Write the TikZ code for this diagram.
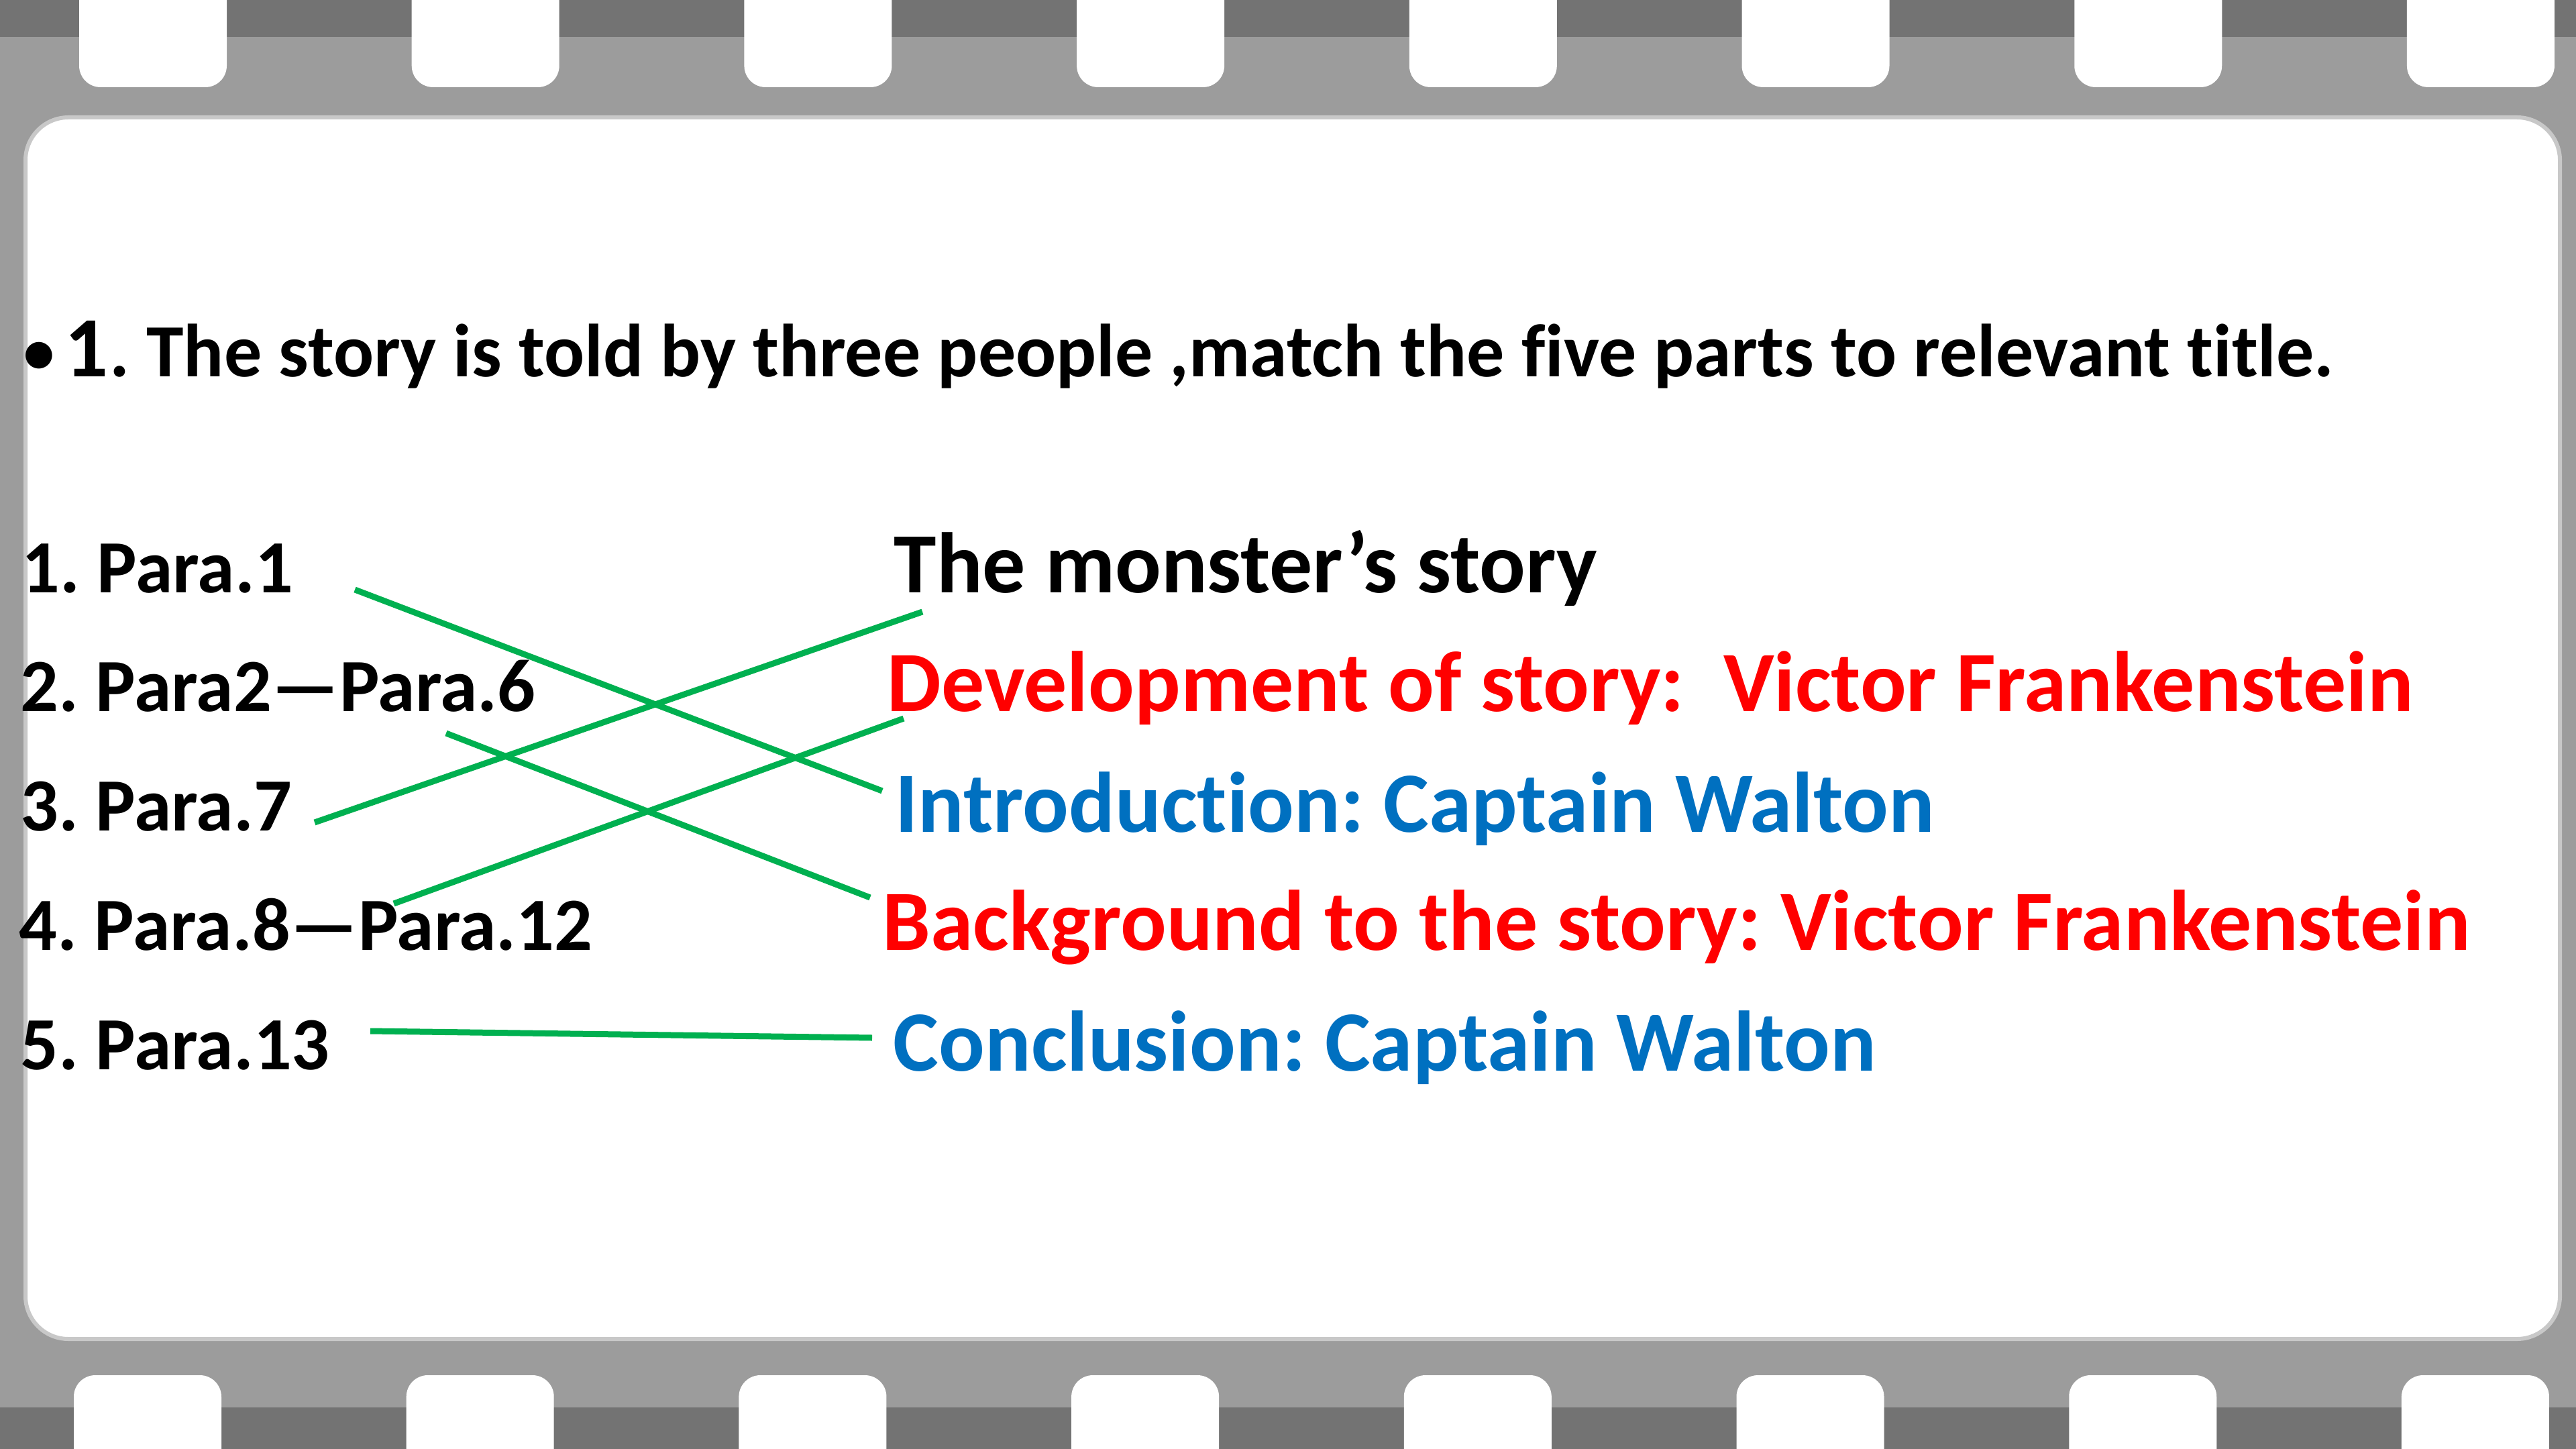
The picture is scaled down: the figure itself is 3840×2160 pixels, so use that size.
\documentclass[tikz,border=0pt]{standalone}
\usepackage{fontspec}
\setmainfont{Carlito}[Ligatures=NoCommon]
\frenchspacing
\definecolor{filmdark}{HTML}{737373}
\definecolor{filmlight}{HTML}{9C9C9C}
\definecolor{edgelight}{HTML}{C8C8C8}
\definecolor{tred}{HTML}{FF0000}
\definecolor{tblue}{HTML}{0070C0}
\definecolor{tgreen}{HTML}{00B050}
\tikzset{
  txt/.style={inner sep=0pt, anchor=base west, font=\bfseries},
  leftitem/.style={txt, font=\bfseries\fontsize{28}{34}\selectfont},
  rightitem/.style={txt, font=\bfseries\fontsize{32}{38}\selectfont},
  conn/.style={draw=tgreen, line width=2.25pt, line cap=butt},
}
\begin{document}
\begin{tikzpicture}[x=0.25pt,y=-0.25pt]
\useasboundingbox (0,0) rectangle (3840,2160);
% film strip
\fill[filmlight] (0,0) rectangle (3840,2160);
\fill[filmdark] (0,0) rectangle (3840,55);
\fill[filmdark] (0,2098) rectangle (3840,2160);
\foreach \i in {0,...,7}{
  \fill[white, rounded corners=8pt] ({118+495.7*\i},-60) rectangle ({338+495.7*\i},130);
  \fill[white, rounded corners=8pt] ({110+495.7*\i},2050) rectangle ({330+495.7*\i},2240);
}
\fill[white, draw=edgelight, line width=1.5pt, rounded corners=16pt] (38,175) rectangle (3816,1996);
% title
\node[txt, font=\fontsize{28}{34}\selectfont] (bul) at (30,562) {•};
\node[txt, font=\bfseries\fontsize{32}{38}\selectfont] (num) at (96,562) {1};
\node[txt, font=\bfseries\fontsize{28}{34}\selectfont, anchor=base west] (title) at (num.base east) {. The story is told by three people ,match the five parts to relevant title.};
% left list
\node[leftitem] (p1) at (32,883) {1. Para.1};
\node[leftitem] (p2) at (30,1060) {2. Para2—Para.6};
\node[leftitem] (p3) at (30,1238) {3. Para.7};
\node[leftitem] (p4) at (28,1416) {4. Para.8—Para.12};
\node[leftitem] (p5) at (30,1594) {5. Para.13};
% right list
\node[rightitem] (t1) at (1332,883) {The monster’s story};
\node[rightitem, text=tred] (t2) at (1322,1060) {Development of story:\ \ Victor Frankenstein};
\node[rightitem, text=tblue] (t3) at (1334,1240) {Introduction: Captain Walton};
\node[rightitem, text=tred] (t4) at (1315,1416) {Background to the story: Victor Frankenstein};
\node[rightitem, text=tblue] (t5) at (1331,1596) {Conclusion: Captain Walton};
% connector ends
\coordinate (a1) at (529,879);  \coordinate (a2) at (1315,1179);
\coordinate (b1) at (469,1226); \coordinate (b2) at (1375,912);
\coordinate (c1) at (665,1093); \coordinate (c2) at (1297,1338);
\coordinate (d1) at (587,1347); \coordinate (d2) at (1347,1071);
\coordinate (e1) at (552,1537); \coordinate (e2) at (1300,1547);
\draw[conn] (a1) -- (a2);
\draw[conn] (b1) -- (b2);
\draw[conn] (c1) -- (c2);
\draw[conn] (d1) -- (d2);
\draw[conn] (e1) -- (e2);
\end{tikzpicture}
\end{document}
